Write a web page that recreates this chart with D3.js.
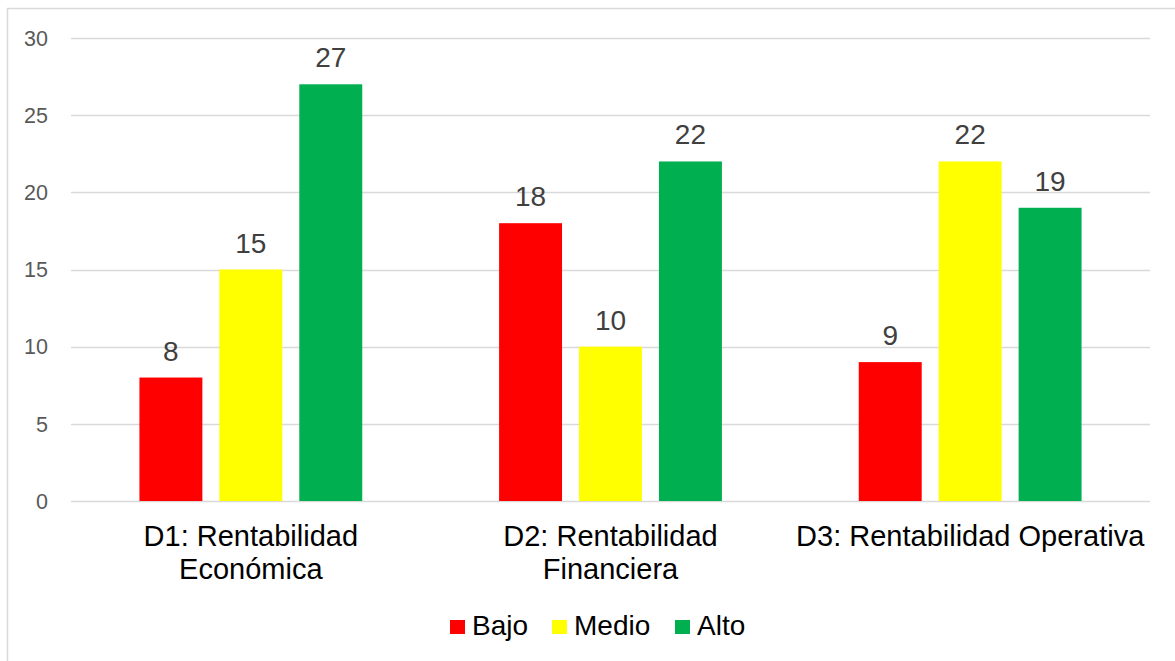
<!DOCTYPE html>
<html><head><meta charset="utf-8">
<script src="https://cdn.jsdelivr.net/npm/d3@7"></script>
<style>body{margin:0;background:#fff}svg{display:block}</style>
</head><body>
<svg id="c" width="1175" height="661"></svg>
<script>
const categories = ["D1: Rentabilidad|Económica", "D2: Rentabilidad|Financiera", "D3: Rentabilidad Operativa"];
const series = ["Bajo", "Medio", "Alto"];
const bajo = [8, 18, 9];
const medio = [15, 10, 22];
const alto = [27, 22, 19];
const colors = ["#FF0000", "#FFFF00", "#00B050"];
const yTicks = [0, 5, 10, 15, 20, 25, 30];

const values = [bajo, medio, alto];
const svg = d3.select("#c");
const font = "'Liberation Sans', Arial, sans-serif";

svg.append("rect").attr("x", 7.5).attr("y", 8.5).attr("width", 1300).attr("height", 800)
  .attr("fill", "none").attr("stroke", "#d9d9d9").attr("stroke-width", 1.5);

const pLeft = 71, pRight = 1150, pTop = 38, pBottom = 501;
const x = d3.scaleBand().domain(categories).range([pLeft, pRight]).paddingInner(0).paddingOuter(0);
const xs = d3.scaleBand().domain(series).range([0, x.bandwidth()]).paddingInner(0.2125).paddingOuter(0.856);
const y = d3.scaleLinear().domain([0, 30]).range([pBottom, pTop]);

// gridlines
svg.append("g").selectAll("line").data(yTicks).join("line")
  .attr("x1", pLeft).attr("x2", pRight)
  .attr("y1", d => Math.round(y(d)) + 0.5).attr("y2", d => Math.round(y(d)) + 0.5)
  .attr("stroke", "#d9d9d9").attr("stroke-width", 1.3);

// y tick labels
svg.append("g").selectAll("text").data(yTicks).join("text")
  .attr("x", 48).attr("y", d => y(d)).attr("dy", "0.36em")
  .attr("text-anchor", "end").attr("font-family", font).attr("font-size", 21.5)
  .attr("fill", "#595959").text(d => d);

// bars
const groups = svg.append("g").selectAll("g").data(series).join("g")
  .attr("fill", (d, i) => colors[i]);
groups.each(function(s, si) {
  const g = d3.select(this);
  g.selectAll("rect").data(categories).join("rect")
    .attr("x", c => x(c) + xs(s))
    .attr("width", xs.bandwidth())
    .attr("y", (c, ci) => y(values[si][ci]))
    .attr("height", (c, ci) => y(0) - y(values[si][ci]));
  g.selectAll("text").data(categories).join("text")
    .attr("x", c => x(c) + xs(s) + xs.bandwidth() / 2)
    .attr("y", (c, ci) => y(values[si][ci]) - 17)
    .attr("text-anchor", "middle").attr("font-family", font).attr("font-size", 28)
    .attr("fill", "#404040").text((c, ci) => values[si][ci]);
});

// category labels
const cl = svg.append("g").selectAll("text").data(categories).join("text")
  .attr("x", c => x(c) + x.bandwidth() / 2).attr("y", 546)
  .attr("text-anchor", "middle").attr("font-family", font).attr("font-size", 29)
  .attr("fill", "#000");
cl.each(function(c) {
  const t = d3.select(this);
  c.split("|").forEach((line, i) => {
    t.append("tspan").attr("x", x(c) + x.bandwidth() / 2).attr("dy", i === 0 ? 0 : 32.5).text(line);
  });
});

// legend
const legendX = [450, 552, 675];
const lg = svg.append("g").selectAll("g").data(series).join("g")
  .attr("transform", (d, i) => `translate(${legendX[i]},620)`);
lg.append("rect").attr("width", 15).attr("height", 14).attr("fill", (d, i) => colors[i]);
lg.append("text").attr("x", 22).attr("y", 15).attr("font-family", font).attr("font-size", 28)
  .attr("fill", "#000").text(d => d);
</script>
</body></html>
